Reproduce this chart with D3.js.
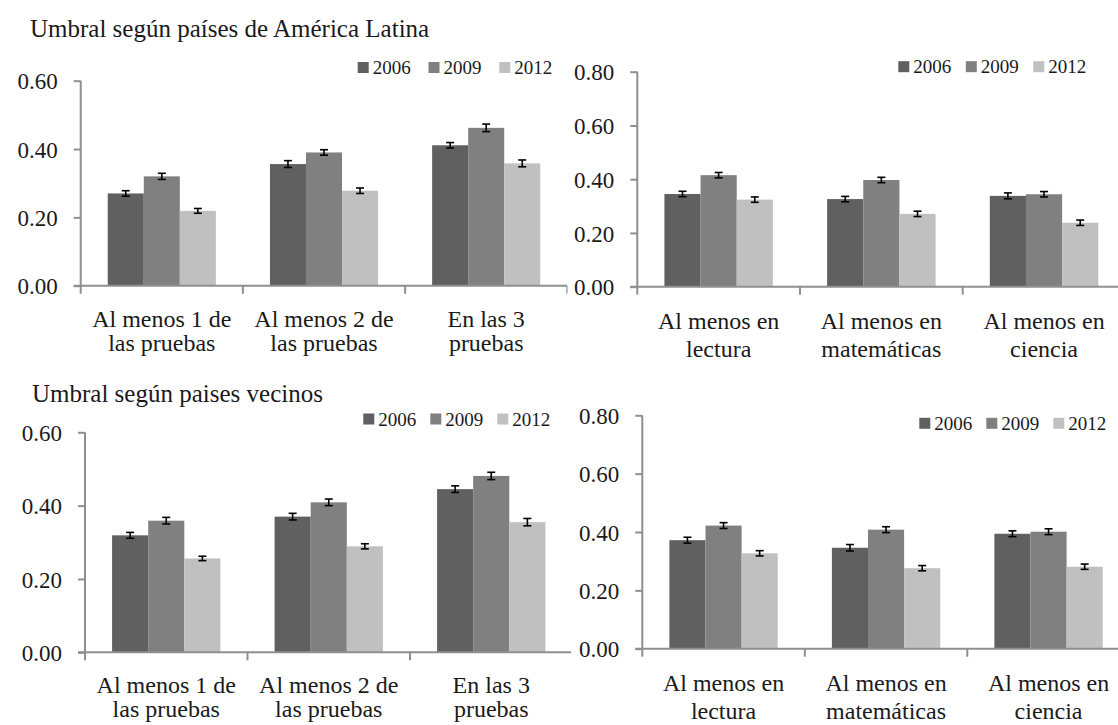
<!DOCTYPE html>
<html>
<head>
<meta charset="utf-8">
<script src="https://cdn.jsdelivr.net/npm/d3@7"></script>
<style>
  html, body { margin: 0; padding: 0; background: #fff; }
  svg { display: block; }
  svg text, svg tspan { font-family: "Liberation Serif", "DejaVu Serif", serif !important; fill: #1a1a1a; }
</style>
</head>
<body>
<svg id="chart" width="1118" height="725"></svg>
<script>
// ---- data ----
const years = ["2006", "2009", "2012"];
const yearColors = ["#606060", "#808080", "#c0c0c0"];

const catsPruebas = [["Al menos 1 de", "las pruebas"], ["Al menos 2 de", "las pruebas"], ["En las 3", "pruebas"]];
const catsMaterias = [["Al menos en", "lectura"], ["Al menos en", "matemáticas"], ["Al menos en", "ciencia"]];

const ticksLow = [0, 0.2, 0.4, 0.6];
const ticksHigh = [0, 0.2, 0.4, 0.6, 0.8];

// Umbral según países de América Latina
const latinPruebas2006 = [0.270, 0.356, 0.411];
const latinPruebas2009 = [0.320, 0.390, 0.462];
const latinPruebas2012 = [0.219, 0.278, 0.358];
const latinPruebasErr2006 = [0.008, 0.010, 0.008];
const latinPruebasErr2009 = [0.009, 0.008, 0.011];
const latinPruebasErr2012 = [0.007, 0.008, 0.010];

const latinMaterias2006 = [0.345, 0.326, 0.338];
const latinMaterias2009 = [0.415, 0.397, 0.344];
const latinMaterias2012 = [0.324, 0.271, 0.238];
const latinMateriasErr2006 = [0.010, 0.010, 0.011];
const latinMateriasErr2009 = [0.010, 0.010, 0.010];
const latinMateriasErr2012 = [0.010, 0.010, 0.010];

// Umbral según paises vecinos
const vecinosPruebas2006 = [0.319, 0.370, 0.445];
const vecinosPruebas2009 = [0.359, 0.409, 0.481];
const vecinosPruebas2012 = [0.256, 0.289, 0.355];
const vecinosPruebasErr2006 = [0.008, 0.009, 0.009];
const vecinosPruebasErr2009 = [0.009, 0.009, 0.010];
const vecinosPruebasErr2012 = [0.006, 0.007, 0.010];

const vecinosMaterias2006 = [0.372, 0.346, 0.394];
const vecinosMaterias2009 = [0.422, 0.408, 0.401];
const vecinosMaterias2012 = [0.327, 0.276, 0.281];
const vecinosMateriasErr2006 = [0.010, 0.011, 0.010];
const vecinosMateriasErr2009 = [0.010, 0.010, 0.010];
const vecinosMateriasErr2012 = [0.009, 0.009, 0.009];

const titleLatin = "Umbral según países de América Latina";
const titleVecinos = "Umbral según paises vecinos";

// ---- drawing ----
const svg = d3.select("#chart");
const AXIS = "#8f8f8f";
const SERIF = "'Liberation Serif', 'DejaVu Serif', serif";

function drawPanel(p) {
  const g = svg.append("g").style("font-family", SERIF);
  if (p.bg) {
    g.append("rect").attr("x", p.bg[0]).attr("y", p.bg[1])
      .attr("width", p.bg[2]).attr("height", p.bg[3]).attr("fill", "#fff");
  }
  const yMax = d3.max(p.ticks);
  const y = d3.scaleLinear().domain([0, yMax]).range([p.yBase, p.yTop]);
  const x = d3.scaleBand().domain(d3.range(p.cats.length))
    .range([p.x0, p.x0 + p.band * p.cats.length]).padding(0);
  const B = x.bandwidth();
  const xs = d3.scaleBand().domain(years).range([B / 6, B - B / 6]).padding(0);

  // bars
  p.series.forEach((vals, si) => {
    g.append("g").selectAll("rect").data(vals).join("rect")
      .attr("x", (d, i) => x(i) + xs(years[si]))
      .attr("y", d => y(d))
      .attr("width", xs.bandwidth())
      .attr("height", d => y(0) - y(d))
      .attr("fill", yearColors[si]);
  });

  // error bars
  p.series.forEach((vals, si) => {
    const eg = g.append("g").attr("stroke", "#000").attr("stroke-width", 1.6).attr("fill", "none");
    vals.forEach((v, i) => {
      const e = p.errors[si][i];
      const cx = x(i) + xs(years[si]) + xs.bandwidth() / 2;
      eg.append("line").attr("x1", cx).attr("x2", cx).attr("y1", y(v - e)).attr("y2", y(v + e));
      eg.append("line").attr("x1", cx - 4).attr("x2", cx + 4).attr("y1", y(v - e)).attr("y2", y(v - e));
      eg.append("line").attr("x1", cx - 4).attr("x2", cx + 4).attr("y1", y(v + e)).attr("y2", y(v + e));
    });
  });

  // y axis
  const yAxis = d3.axisLeft(y).tickValues(p.ticks).tickFormat(d3.format(".2f"))
    .tickSize(7).tickPadding(16);
  const ya = g.append("g").attr("transform", `translate(${p.x0},0)`).call(yAxis)
    .attr("font-family", null).attr("font-size", null);
  ya.select(".domain").attr("stroke", AXIS).attr("stroke-width", 2).attr("d", `M0,${p.yTop}V${p.yBase}`);
  ya.selectAll(".tick line").attr("stroke", AXIS).attr("stroke-width", 2);
  ya.selectAll(".tick text").style("font-family", SERIF).style("font-size", "23px")
    .attr("fill", "#1a1a1a").attr("dy", "0.36em");

  // x axis
  const xEnd = p.x0 + p.band * p.cats.length;
  const xa = g.append("g");
  xa.append("line").attr("x1", p.x0 - 7).attr("x2", xEnd).attr("y1", p.yBase).attr("y2", p.yBase)
    .attr("stroke", AXIS).attr("stroke-width", 2);
  xa.selectAll("line.ct").data(d3.range(p.cats.length + 1)).join("line").attr("class", "ct")
    .attr("x1", i => p.x0 + i * B).attr("x2", i => p.x0 + i * B)
    .attr("y1", p.yBase).attr("y2", p.yBase + 8)
    .attr("stroke", AXIS).attr("stroke-width", 2);
  p.cats.forEach((lines, i) => {
    const t = xa.append("text").attr("text-anchor", "middle")
      .style("font-family", SERIF).style("font-size", "24px");
    lines.forEach((ln, li) => {
      t.append("tspan").attr("x", x(i) + B / 2)
        .attr("y", p.yBase + (li === 0 ? p.lab1 : p.lab2)).text(ln);
    });
  });

  // legend
  const lg = g.append("g");
  years.forEach((yr, i) => {
    const lx = p.legX + i * p.legStep;
    lg.append("rect").attr("x", lx).attr("y", p.legY - 5.5).attr("width", 11).attr("height", 11)
      .attr("fill", yearColors[i]);
    lg.append("text").attr("x", lx + 15).attr("y", p.legY + 6.5)
      .style("font-family", SERIF).style("font-size", "19px").text(yr);
  });

  if (p.title) {
    g.append("text").attr("x", p.title[1]).attr("y", p.title[2])
      .style("font-family", SERIF).style("font-size", "25px").text(p.title[0]);
  }
}

drawPanel({
  cats: catsPruebas, ticks: ticksLow,
  series: [latinPruebas2006, latinPruebas2009, latinPruebas2012],
  errors: [latinPruebasErr2006, latinPruebasErr2009, latinPruebasErr2012],
  x0: 80.7, band: 162.2, yBase: 285.7, yTop: 80.7, lab1: 41, lab2: 65,
  legX: 357.7, legStep: 70.8, legY: 67.5,
  title: [titleLatin, 30, 37]
});
drawPanel({
  cats: catsPruebas, ticks: ticksLow,
  series: [vecinosPruebas2006, vecinosPruebas2009, vecinosPruebas2012],
  errors: [vecinosPruebasErr2006, vecinosPruebasErr2009, vecinosPruebasErr2012],
  x0: 85, band: 162.5, yBase: 652.3, yTop: 432.3, lab1: 41, lab2: 65,
  legX: 363.3, legStep: 67, legY: 419,
  title: [titleVecinos, 32, 402]
});
drawPanel({
  cats: catsMaterias, ticks: ticksHigh,
  series: [latinMaterias2006, latinMaterias2009, latinMaterias2012],
  errors: [latinMateriasErr2006, latinMateriasErr2009, latinMateriasErr2012],
  x0: 637.3, band: 162.7, yBase: 286.7, yTop: 71.7, lab1: 42, lab2: 70,
  legX: 898.3, legStep: 67.5, legY: 66.7,
  bg: [567.5, 40, 560, 330]
});
drawPanel({
  cats: catsMaterias, ticks: ticksHigh,
  series: [vecinosMaterias2006, vecinosMaterias2009, vecinosMaterias2012],
  errors: [vecinosMateriasErr2006, vecinosMateriasErr2009, vecinosMateriasErr2012],
  x0: 642.3, band: 162.5, yBase: 648.7, yTop: 415.3, lab1: 42, lab2: 70,
  legX: 919.3, legStep: 67, legY: 423.3,
  bg: [571, 395, 560, 330]
});
</script>
</body>
</html>
